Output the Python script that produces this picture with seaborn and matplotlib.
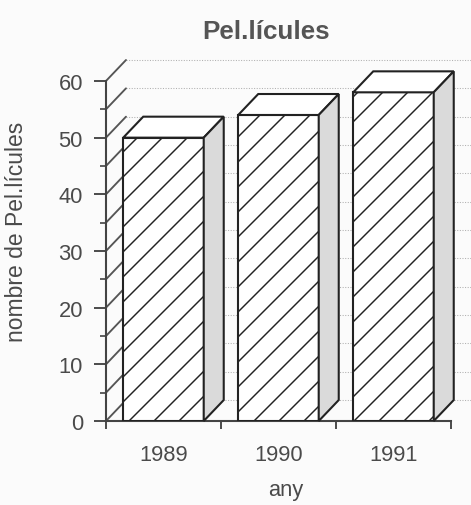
import seaborn as sns, matplotlib.pyplot as plt
from matplotlib.patches import Polygon
from matplotlib.ticker import MultipleLocator, FixedLocator

# data
years = ["1989", "1990", "1991"]
films = [50, 54, 58]

sns.set_style("white")
plt.rcParams['font.family'] = ['Liberation Sans', 'DejaVu Sans']
plt.rcParams['hatch.linewidth'] = 0.7
plt.rcParams['hatch.color'] = '#333333'

txt = '#4a4a4a'
fig = plt.figure(figsize=(3.14, 3.3733), dpi=150, facecolor='#fbfbfb')
ax = fig.add_axes([0.225, 0.166, 0.7325, 0.672])
ax.set_facecolor('#fbfbfb')

sns.barplot(x=years, y=films, color='white', edgecolor='#222222', linewidth=1.0,
            width=0.7, hatch='//', errorbar=None, ax=ax, zorder=3)

ax.set_xlim(-0.5, 2.5)
ax.set_ylim(0, 60)

# depth of the fake 3d boxes (data units)
dx, dy = 0.174, 3.7

# back wall grid and left wall strokes
for v in range(0, 65, 5):
    ax.plot([-0.5 + dx, 2.8], [v + dy, v + dy], ls=(0, (1, 1.5)), color='#b0b0b0',
            lw=0.5, clip_on=False, zorder=1)
    ax.plot([-0.5, -0.5 + dx], [v, v + dy], color='#555555', lw=0.9,
            clip_on=False, zorder=2)

# top and side faces from the bars seaborn drew
for p in list(ax.patches):
    x0, w, h = p.get_x(), p.get_width(), p.get_height()
    top = Polygon([(x0, h), (x0 + dx, h + dy), (x0 + w + dx, h + dy), (x0 + w, h)],
                  closed=True, facecolor='white', edgecolor='#222222', lw=1.0,
                  clip_on=False, zorder=3)
    side = Polygon([(x0 + w, 0), (x0 + w + dx, dy), (x0 + w + dx, h + dy), (x0 + w, h)],
                   closed=True, facecolor='#dadada', edgecolor='#222222', lw=1.0,
                   clip_on=False, zorder=3)
    ax.add_patch(top)
    ax.add_patch(side)

sns.despine(ax=ax)
ax.spines['left'].set_bounds(0, 60)
for s in ['left', 'bottom']:
    ax.spines[s].set_color('#444444')
    ax.spines[s].set_linewidth(1.0)

ax.yaxis.set_major_locator(MultipleLocator(10))
ax.yaxis.set_minor_locator(MultipleLocator(5))
ax.tick_params(axis='y', which='major', length=6, width=0.9, color='#444444',
               pad=5, labelsize=10.5, labelcolor=txt, left=True)
ax.tick_params(axis='y', which='minor', length=3, width=0.8, color='#444444', left=True)

ax.xaxis.set_minor_locator(FixedLocator([-0.5, 0.5, 1.5, 2.5]))
ax.tick_params(axis='x', which='major', length=0, pad=11, labelsize=10.5, labelcolor=txt)
ax.tick_params(axis='x', which='minor', length=4, width=0.9, color='#444444', bottom=True)

ax.set_xlabel("any", fontsize=10.5, color=txt)
ax.xaxis.set_label_coords(0.52, -0.172)
ax.set_ylabel("nombre de Pel.lícules", fontsize=11, color=txt)
ax.yaxis.set_label_coords(-0.225, 0.56)
fig.text(0.565, 0.936, "Pel.lícules", ha='center', va='center', fontsize=12.5,
         fontweight='bold', color='#555555')

plt.savefig("out.png", dpi=150, facecolor=fig.get_facecolor())
